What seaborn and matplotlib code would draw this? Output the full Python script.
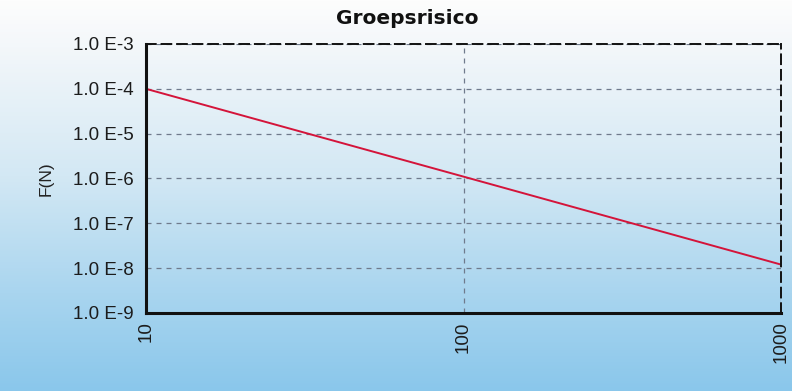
import numpy as np
import pandas as pd
import matplotlib
matplotlib.use("Agg")
import matplotlib.pyplot as plt
from matplotlib.colors import LinearSegmentedColormap
from matplotlib.ticker import FixedLocator, NullLocator
import seaborn as sns

# Data (F(N) curve)
n_values = [10, 100, 1000]
f_values = [1.0e-4, 1.1e-6, 1.2e-8]
y_ticks = [1e-3, 1e-4, 1e-5, 1e-6, 1e-7, 1e-8, 1e-9]
y_labels = ["1.0 E-3", "1.0 E-4", "1.0 E-5", "1.0 E-6", "1.0 E-7", "1.0 E-8", "1.0 E-9"]
x_ticks = [10, 100, 1000]
x_labels = ["10", "100", "1000"]

df = pd.DataFrame({"N": n_values, "F": f_values})

sns.set_style("white")
plt.rcParams["font.family"] = ["Liberation Sans", "DejaVu Sans"]

fig = plt.figure(figsize=(7.92, 3.91), dpi=100)

# background gradient white -> light blue
bg = fig.add_axes([0, 0, 1, 1], zorder=-10)
cmap = LinearSegmentedColormap.from_list(
    "bg", [(0.0, "#fdfdfd"), (0.12, "#f3f7fa"), (0.45, "#d3e8f4"),
           (0.75, "#a9d5ef"), (1.0, "#8ac7eb")])
grad = np.linspace(0, 1, 256).reshape(-1, 1)
bg.imshow(grad, aspect="auto", cmap=cmap, extent=[0, 1, 0, 1], origin="upper")
bg.set_axis_off()

ax = fig.add_axes([0.1843, 0.1995, 0.802, 0.688])
ax.patch.set_alpha(0)

sns.lineplot(data=df, x="N", y="F", ax=ax, color="#d4143a", linewidth=1.4)

ax.set_xscale("log")
ax.set_yscale("log")
ax.set_xlim(10, 1000)
ax.set_ylim(1e-9, 1e-3)

ax.yaxis.set_major_locator(FixedLocator(y_ticks))
ax.set_yticklabels(y_labels, fontsize=13.5, color="#1c1c1c")
ax.yaxis.set_minor_locator(NullLocator())
ax.xaxis.set_major_locator(FixedLocator(x_ticks))
ax.set_xticklabels(x_labels, rotation=90, fontsize=13.5, color="#1c1c1c")
ax.xaxis.set_minor_locator(NullLocator())
ax.tick_params(axis="y", length=3, width=0.8, color="#7d8aa0", pad=6)
ax.tick_params(axis="x", length=3, width=0.8, color="#7d8aa0", pad=3)

ax.grid(True, which="major", linestyle=(0, (4, 4)), color="#6f7a8c", linewidth=0.9)

for side in ["left", "bottom"]:
    ax.spines[side].set_visible(True)
    ax.spines[side].set_color("#111111")
    ax.spines[side].set_linewidth(2.2)
for side in ["top", "right"]:
    ax.spines[side].set_visible(True)
    ax.spines[side].set_color("#111111")
    ax.spines[side].set_linewidth(1.4)
    ax.spines[side].set_linestyle((0, (5, 3)))

ax.set_xlabel("")
ax.set_ylabel("F(N)", fontsize=12.5, color="#222222", labelpad=14)

# title sits a bit left of the plot centre in the original
fig.text(0.514, 0.953, "Groepsrisico", fontsize=14.5, fontweight="bold",
         family="DejaVu Sans", color="#111111", ha="center", va="center")

fig.savefig("out.png", dpi=100)
